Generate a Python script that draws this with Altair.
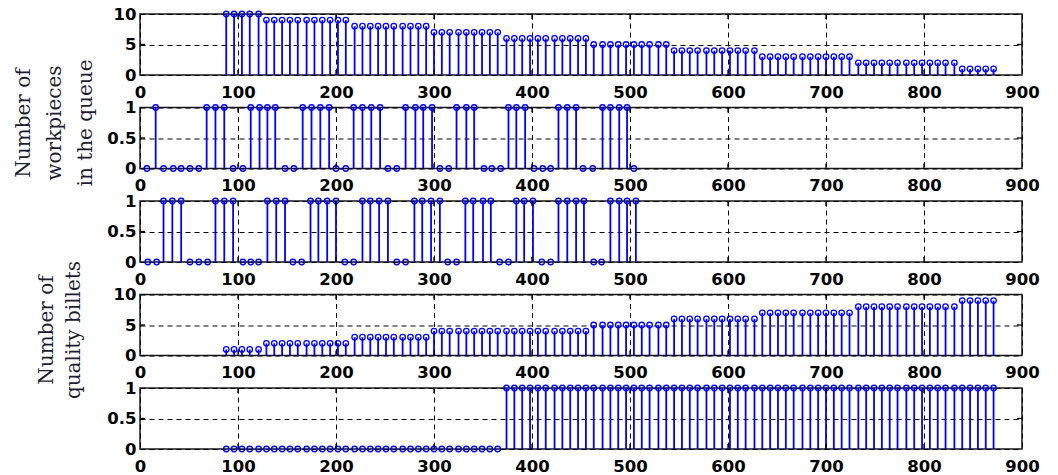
import altair as alt
import pandas as pd

# ---------------- data ----------------
X_TICKS = [0, 100, 200, 300, 400, 500, 600, 700, 800, 900]

# common sampling instants of panels 1, 4, 5
TIMES = [88, 96, 104, 112, 121, 129, 137, 145, 153, 161,
         170, 178, 186, 194, 202, 210, 219, 227, 235, 243,
         251, 259, 268, 276, 284, 292, 300, 308, 316, 325,
         333, 341, 349, 357, 365, 374, 382, 390, 398, 406,
         414, 423, 431, 439, 447, 455, 463, 472, 480, 488,
         496, 504, 512, 520, 529, 537, 545, 553, 561, 569,
         578, 586, 594, 602, 610, 618, 627, 635, 643, 651,
         659, 667, 676, 684, 692, 700, 708, 716, 724, 733,
         741, 749, 757, 765, 773, 782, 790, 798, 806, 814,
         822, 831, 839, 847, 855, 863, 871]

QUEUE = [10, 10, 10, 10, 10, 9, 9, 9, 9, 9,
         9, 9, 9, 9, 9, 9, 8, 8, 8, 8,
         8, 8, 8, 8, 8, 8, 7, 7, 7, 7,
         7, 7, 7, 7, 7, 6, 6, 6, 6, 6,
         6, 6, 6, 6, 6, 6, 5, 5, 5, 5,
         5, 5, 5, 5, 5, 5, 4, 4, 4, 4,
         4, 4, 4, 4, 4, 4, 4, 3, 3, 3,
         3, 3, 3, 3, 3, 3, 3, 3, 3, 2,
         2, 2, 2, 2, 2, 2, 2, 2, 2, 2,
         2, 2, 1, 1, 1, 1, 1]

QUALITY = [1, 1, 1, 1, 1, 2, 2, 2, 2, 2,
           2, 2, 2, 2, 2, 2, 3, 3, 3, 3,
           3, 3, 3, 3, 3, 3, 4, 4, 4, 4,
           4, 4, 4, 4, 4, 4, 4, 4, 4, 4,
           4, 4, 4, 4, 4, 4, 5, 5, 5, 5,
           5, 5, 5, 5, 5, 5, 6, 6, 6, 6,
           6, 6, 6, 6, 6, 6, 6, 7, 7, 7,
           7, 7, 7, 7, 7, 7, 7, 7, 7, 8,
           8, 8, 8, 8, 8, 8, 8, 8, 8, 8,
           8, 8, 9, 9, 9, 9, 9]

STATE5 = [0, 0, 0, 0, 0, 0, 0, 0, 0, 0,
          0, 0, 0, 0, 0, 0, 0, 0, 0, 0,
          0, 0, 0, 0, 0, 0, 0, 0, 0, 0,
          0, 0, 0, 0, 0, 1, 1, 1, 1, 1,
          1, 1, 1, 1, 1, 1, 1, 1, 1, 1,
          1, 1, 1, 1, 1, 1, 1, 1, 1, 1,
          1, 1, 1, 1, 1, 1, 1, 1, 1, 1,
          1, 1, 1, 1, 1, 1, 1, 1, 1, 1,
          1, 1, 1, 1, 1, 1, 1, 1, 1, 1,
          1, 1, 1, 1, 1, 1, 1]

TIMES2 = [7, 16, 24, 34, 42, 51, 60, 68, 77, 86,
          95, 105, 113, 122, 130, 138, 148, 157, 166, 175,
          184, 193, 200, 210, 218, 227, 236, 245, 253, 262,
          271, 281, 289, 298, 306, 315, 323, 333, 341, 351,
          359, 368, 376, 384, 393, 402, 411, 419, 427, 436,
          445, 452, 462, 472, 480, 489, 497, 504]
STATE2 = [0, 1, 0, 0, 0, 0, 0, 1, 1, 1,
          0, 0, 1, 1, 1, 1, 0, 0, 1, 1,
          1, 1, 0, 0, 1, 1, 1, 1, 0, 0,
          1, 1, 1, 1, 0, 0, 1, 1, 1, 0,
          0, 0, 1, 1, 1, 0, 0, 0, 1, 1,
          1, 0, 0, 1, 1, 1, 1, 0]

TIMES3 = [8, 17, 24, 33, 42, 51, 60, 69, 77, 86,
          95, 105, 113, 121, 130, 139, 148, 156, 165, 174,
          182, 191, 200, 209, 218, 227, 235, 244, 253, 262,
          271, 280, 288, 297, 306, 314, 323, 332, 340, 350,
          358, 367, 376, 384, 392, 401, 410, 419, 427, 436,
          445, 453, 463, 471, 480, 489, 497, 506]
STATE3 = [0, 0, 1, 1, 1, 0, 0, 0, 1, 1,
          1, 0, 0, 0, 1, 1, 1, 0, 0, 1,
          1, 1, 1, 0, 0, 1, 1, 1, 1, 0,
          0, 1, 1, 1, 1, 0, 0, 1, 1, 1,
          1, 0, 0, 1, 1, 1, 0, 0, 1, 1,
          1, 1, 0, 0, 1, 1, 1, 1]

TITLE_1 = ["Number of", "workpieces", "in the queue"]
TITLE_2 = ["Number of", "quality billets"]

# ---------------- styling ----------------
W, H = 882, 61
BLUE = "#0000ff"
TITLE_COLOR = "#1c1c34"


def panel(times, values, ymax, title=None, title_x=0, title_y=0, lh=30):
    df = pd.DataFrame({"t": times, "v": values, "b": [0] * len(times)})
    yticks = [0, ymax / 2, ymax]
    xs = alt.Scale(domain=[0, 900], nice=False, zero=False)
    ys = alt.Scale(domain=[0, ymax], nice=False)
    xaxis = alt.Axis(values=X_TICKS, format="d", title=None, grid=True,
                     labelPadding=9, labelFlush=False, labelOverlap=False)
    yaxis_kw = dict(values=yticks, labelExpr="datum.value + ''", grid=True, labelPadding=4,
                    labelOverlap=False, labelFlush=False, tickCount=3)
    if title is not None:
        yaxis_kw.update(title=title, titleAngle=270, titleX=title_x, titleY=title_y,
                        titleAlign="center", titleBaseline="top", titleLineHeight=lh,
                        titleFont="DejaVu Serif", titleFontSize=20,
                        titleFontWeight="normal", titleColor=TITLE_COLOR)
    else:
        yaxis_kw.update(title=None)
    yaxis = alt.Axis(**yaxis_kw)

    X = alt.X("t:Q", scale=xs, axis=xaxis)
    Y = alt.Y("v:Q", scale=ys, axis=yaxis)

    stems = alt.Chart(df).mark_rule(color=BLUE, strokeWidth=1.8).encode(
        x=X, y=Y, y2=alt.Y2("b:Q"),
    )
    pts = alt.Chart(df).mark_point(shape="circle", filled=False, color=BLUE,
                                   size=30, strokeWidth=1.3, opacity=1).encode(x=X, y=Y)

    tdf = pd.DataFrame({"t": X_TICKS[1:-1]})
    tick_bot = alt.Chart(tdf).mark_rule(color="black", strokeWidth=1.3).encode(
        x=X, y=alt.value(H), y2=alt.value(H - 5))
    tick_top = alt.Chart(tdf).mark_rule(color="black", strokeWidth=1.3).encode(
        x=X, y=alt.value(0), y2=alt.value(5))
    ydf = pd.DataFrame({"v": [ymax / 2]})
    tick_l = alt.Chart(ydf).mark_rule(color="black", strokeWidth=1.3).encode(
        y=Y, x=alt.value(0), x2=alt.value(5))
    tick_r = alt.Chart(ydf).mark_rule(color="black", strokeWidth=1.3).encode(
        y=Y, x=alt.value(W - 5), x2=alt.value(W))

    return alt.layer(stems, pts, tick_bot, tick_top, tick_l, tick_r).properties(width=W, height=H)


p1 = panel(TIMES, QUEUE, 10)
p2 = panel(TIMES2, STATE2, 1, title=TITLE_1, title_x=-127, title_y=15, lh=31)
p3 = panel(TIMES3, STATE3, 1)
p4 = panel(TIMES, QUALITY, 10, title=TITLE_2, title_x=-104, title_y=35, lh=27)
p5 = panel(TIMES, STATE5, 1)

chart = alt.vconcat(p1, p2, p3, p4, p5, spacing=32.5, bounds="flush").properties(
    padding={"left": 12, "top": 5, "right": 5, "bottom": 5},
).configure_view(
    stroke="#1a1a1a", strokeWidth=1.5
).configure_axis(
    domain=False, ticks=False,
    labelFont="DejaVu Sans", labelFontSize=16.5, labelFontWeight="bold",
    labelColor="black",
    gridColor="black", gridDash=[5, 4], gridWidth=1, gridOpacity=1,
)

chart.save("out.html", embed_options={"renderer": "svg", "actions": False})
